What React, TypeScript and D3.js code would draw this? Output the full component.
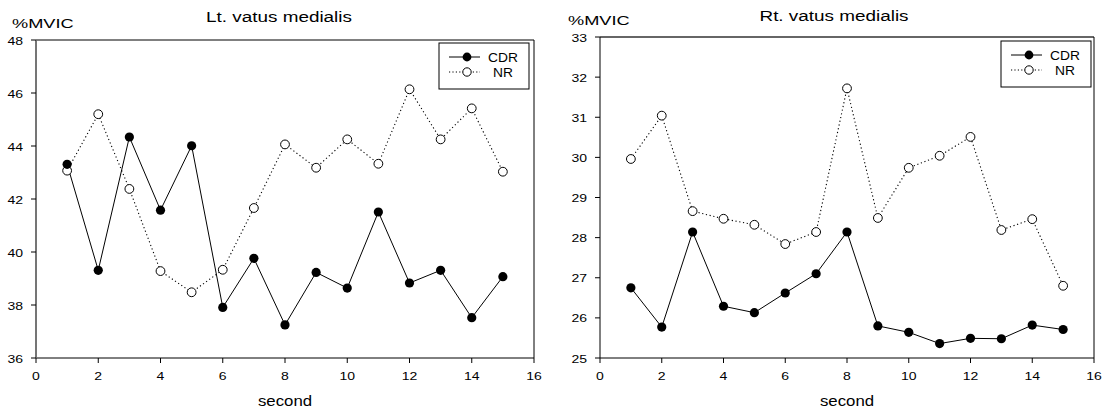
import React from "react";
import * as d3 from "d3";

const seconds = [1, 2, 3, 4, 5, 6, 7, 8, 9, 10, 11, 12, 13, 14, 15];
const xTicks = [0, 2, 4, 6, 8, 10, 12, 14, 16];

const leftCDR = [43.31, 39.31, 44.34, 41.58, 44.01, 37.91, 39.76, 37.25, 39.23, 38.64, 41.51, 38.83, 39.31, 37.52, 39.07];
const leftNR = [43.07, 45.2, 42.38, 39.28, 38.48, 39.33, 41.66, 44.06, 43.18, 44.25, 43.33, 46.14, 44.25, 45.42, 43.03];
const leftYTicks = [36, 38, 40, 42, 44, 46, 48];

const rightCDR = [26.75, 25.77, 28.14, 26.29, 26.13, 26.62, 27.1, 28.14, 25.8, 25.64, 25.36, 25.49, 25.48, 25.82, 25.71];
const rightNR = [29.96, 31.04, 28.66, 28.47, 28.32, 27.84, 28.14, 31.72, 28.49, 29.74, 30.04, 30.51, 28.19, 28.46, 26.8];
const rightYTicks = [25, 26, 27, 28, 29, 30, 31, 32, 33];

const FONT = "Arial, 'Liberation Sans', sans-serif";

// text in the original is drawn a bit wide, so stretch it horizontally
const T = ({ x, y, size, sx = 1.2, anchor = "start", children }: any) => (
  <text transform={`translate(${x},${y}) scale(${sx},1)`} fontSize={size} textAnchor={anchor}>
    {children}
  </text>
);

type PanelProps = {
  title: string;
  cdr: number[];
  nr: number[];
  yTicks: number[];
  box: { left: number; right: number; top: number; bottom: number };
  titleX: number;
  titleY: number;
  ylabX: number;
  ylabY: number;
  leg: { x: number; y: number };
  leftColor: string;
  topColor: string;
};

const Panel = ({ title, cdr, nr, yTicks, box, titleX, titleY, ylabX, ylabY, leg, leftColor, topColor }: PanelProps) => {
  const x = d3.scaleLinear().domain([0, 16]).range([box.left, box.right]);
  const y = d3
    .scaleLinear()
    .domain([yTicks[0], yTicks[yTicks.length - 1]])
    .range([box.bottom, box.top]);

  const line = d3
    .line<number>()
    .x((d, i) => x(seconds[i]))
    .y((d) => y(d));

  return (
    <g fontFamily={FONT}>
      <T x={titleX} y={titleY} size={15.5} sx={1.22} anchor="middle">{title}</T>
      <T x={ylabX} y={ylabY} size={13} sx={1.4}>%MVIC</T>

      {/* frame */}
      <line x1={box.left} x2={box.right} y1={box.top} y2={box.top} stroke={topColor} strokeWidth={topColor === "#000" ? 1 : 1.8} />
      <line x1={box.right} x2={box.right} y1={box.top} y2={box.bottom} stroke="#000" />
      <line x1={box.left} x2={box.right} y1={box.bottom} y2={box.bottom} stroke="#000" />
      <line x1={box.left} x2={box.left} y1={box.top} y2={box.bottom} stroke={leftColor} strokeWidth={leftColor === "#000" ? 1 : 1.8} />

      {/* y ticks */}
      {yTicks.map((t) => (
        <g key={t}>
          <line x1={box.left - 5} x2={box.left} y1={y(t)} y2={y(t)} stroke="#000" />
          <T x={box.left - 13} y={y(t) + 4.5} size={11.5} sx={1.22} anchor="end">{t}</T>
        </g>
      ))}

      {/* x ticks */}
      {xTicks.map((t) => (
        <g key={t}>
          <line x1={x(t)} x2={x(t)} y1={box.bottom} y2={box.bottom + 5} stroke="#000" />
          <T x={x(t)} y={box.bottom + 22} size={11.5} sx={1.22} anchor="middle">{t}</T>
        </g>
      ))}
      <T x={(box.left + box.right) / 2} y={406} size={14} sx={1.2} anchor="middle">second</T>

      {/* series */}
      <path d={line(nr) || ""} fill="none" stroke="#000" strokeWidth={1.1} strokeDasharray="1.2,2.6" />
      <path d={line(cdr) || ""} fill="none" stroke="#000" strokeWidth={1} />
      {nr.map((v, i) => (
        <circle key={"n" + i} cx={x(seconds[i])} cy={y(v)} r={4.4} fill="#fff" stroke="#000" strokeWidth={1} />
      ))}
      {cdr.map((v, i) => (
        <circle key={"c" + i} cx={x(seconds[i])} cy={y(v)} r={4.6} fill="#000" />
      ))}

      {/* legend */}
      <rect x={leg.x} y={leg.y} width={90} height={46} fill="#fff" stroke="#000" />
      <line x1={leg.x + 10} x2={leg.x + 41} y1={leg.y + 14} y2={leg.y + 14} stroke="#000" />
      <circle cx={leg.x + 28} cy={leg.y + 14} r={4.4} fill="#000" />
      <T x={leg.x + 49} y={leg.y + 19} size={12} sx={1.15}>CDR</T>
      <line x1={leg.x + 10} x2={leg.x + 41} y1={leg.y + 29} y2={leg.y + 29} stroke="#000" strokeDasharray="1.2,2.2" />
      <circle cx={leg.x + 28} cy={leg.y + 29} r={4.2} fill="#fff" stroke="#000" />
      <T x={leg.x + 54} y={leg.y + 34} size={12} sx={1.15}>NR</T>
    </g>
  );
};

export default function App() {
  return (
    <svg width={1108} height={410} style={{ position: "absolute", left: 0, top: 0, background: "#fff" }}>
      <Panel
        title="Lt. vatus medialis"
        cdr={leftCDR}
        nr={leftNR}
        yTicks={leftYTicks}
        box={{ left: 36, right: 534, top: 40, bottom: 358 }}
        titleX={279}
        titleY={22}
        ylabX={12}
        ylabY={28}
        leg={{ x: 439, y: 43 }}
        leftColor="#666"
        topColor="#000"
      />
      <Panel
        title="Rt. vatus medialis"
        cdr={rightCDR}
        nr={rightNR}
        yTicks={rightYTicks}
        box={{ left: 600, right: 1094, top: 37, bottom: 358 }}
        titleX={834}
        titleY={21}
        ylabX={568}
        ylabY={25}
        leg={{ x: 1001, y: 41 }}
        leftColor="#000"
        topColor="#666"
      />
    </svg>
  );
}
